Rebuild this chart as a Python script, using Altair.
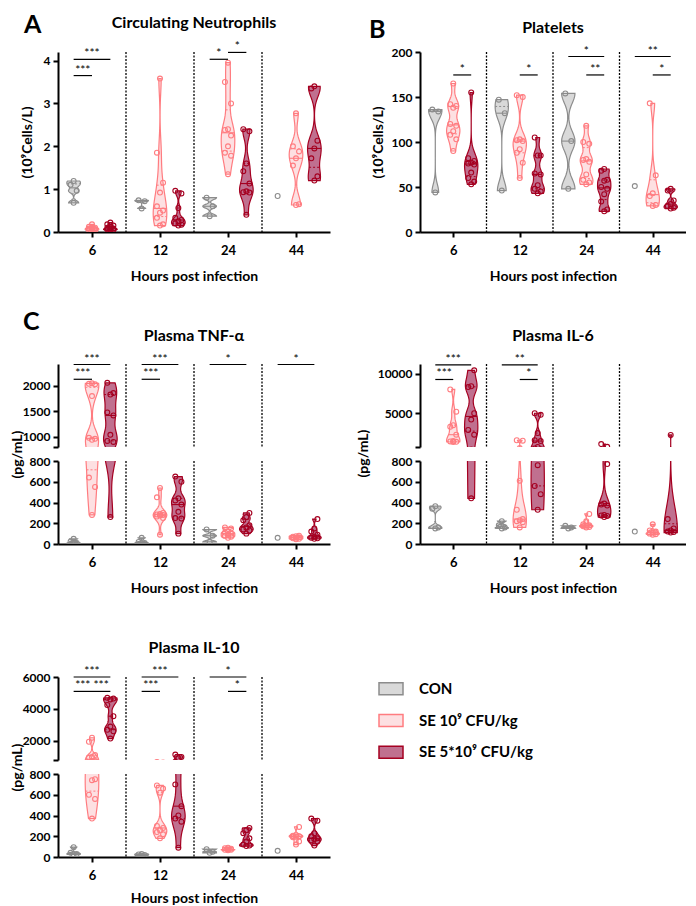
import altair as alt
import pandas as pd

HOURS = [6, 12, 24, 44]
GROUPS = ["CON", "SE 10⁹ CFU/kg", "SE 5*10⁹ CFU/kg"]
FILLS = ["#d9d9d9", "#fde0e2", "#c0708f"]
STROKES = ["#8c8c8c", "#ff7c80", "#a50021"]

# ---- data, one list per hour: 6, 12, 24, 44 h ----
NEU_CON = [[1.19, 1.10, 0.96, 0.68], [0.74, 0.72, 0.55], [0.80, 0.60, 0.37], [0.84]]
NEU_SE1 = [[0.18, 0.12, 0.10, 0.09, 0.08, 0.07, 0.06, 0.05, 0.04, 0.03],
           [3.58, 1.85, 1.15, 0.92, 0.60, 0.50, 0.45, 0.33, 0.18, 0.15],
           [3.95, 3.50, 3.00, 2.40, 2.38, 2.25, 2.00, 1.85, 1.78, 1.35],
           [2.77, 2.00, 1.88, 1.72, 1.55, 0.65, 0.63]]
NEU_SE5 = [[0.22, 0.18, 0.15, 0.12, 0.10, 0.08, 0.07, 0.06, 0.05, 0.04],
           [0.96, 0.90, 0.56, 0.33, 0.28, 0.25, 0.20, 0.17, 0.15],
           [2.40, 2.35, 1.60, 1.42, 1.13, 0.95, 0.93, 0.92, 0.40],
           [3.40, 3.35, 2.13, 1.95, 1.72, 1.30, 1.20]]

PLT_CON = [[136, 134, 44], [147, 132, 46], [154, 101, 48], [51]]
PLT_SE1 = [[165, 142, 140, 138, 120, 118, 112, 108, 103, 90],
           [152, 150, 103, 102, 101, 92, 88, 77, 60],
           [118, 100, 98, 81, 80, 78, 64, 58, 55, 53],
           [143, 63, 43, 40, 30, 29]]
PLT_SE5 = [[155, 82, 79, 77, 76, 75, 66, 60, 56, 53],
           [105, 85, 85, 65, 64, 52, 48, 45, 43],
           [70, 68, 58, 57, 50, 48, 42, 34, 25, 23],
           [48, 46, 35, 31, 29, 27, 26]]

TNF_CON = [[50, 25, 10, 5], [60, 20, 10, 5], [140, 80, 20], [60]]
TNF_SE1 = [[2050, 2040, 2030, 1800, 980, 960, 940, 640, 550, 280],
           [540, 450, 300, 290, 285, 280, 275, 265, 250, 90],
           [160, 150, 120, 110, 100, 90, 80, 70, 60],
           [80, 75, 70, 65, 60, 55, 50, 45]]
TNF_SE5 = [[2060, 1860, 1830, 1480, 1420, 1040, 920, 900, 260],
           [650, 600, 440, 420, 380, 310, 250, 245, 100],
           [300, 260, 230, 180, 160, 140, 130, 100],
           [240, 150, 120, 90, 70, 60, 55, 50]]

IL6_CON = [[365, 340, 160, 150], [220, 180, 160, 150], [175, 160, 150], [120]]
IL6_SE1 = [[8000, 5200, 3500, 3300, 2300, 1500, 1450, 1400, 1380],
           [1600, 1550, 610, 330, 240, 230, 220, 210, 160],
           [290, 220, 190, 180, 175, 170, 165, 160],
           [190, 130, 120, 110, 100, 95, 90]]
IL6_SE5 = [[10400, 8400, 8300, 5000, 4200, 2900, 2300, 440],
           [5000, 4800, 2500, 1600, 1500, 760, 560, 480, 330],
           [1120, 770, 390, 380, 370, 280, 275, 270, 260],
           [2270, 240, 150, 130, 120, 115, 110]]

IL10_CON = [[95, 40, 30, 25], [30, 25, 20, 15], [75, 50, 40], [60]]
IL10_SE1 = [[2200, 1950, 1120, 1000, 960, 750, 740, 600, 560, 370],
            [690, 660, 620, 300, 280, 260, 240, 220, 180],
            [90, 85, 80, 75, 70, 70, 65],
            [290, 210, 205, 200, 195, 190, 150, 120]]
IL10_SE5 = [[4700, 4650, 4600, 4250, 3550, 2900, 2700, 2600, 2150],
            [1150, 1000, 920, 700, 490, 400, 370, 340, 90],
            [280, 260, 230, 180, 150, 120, 110, 105],
            [370, 350, 230, 200, 180, 170, 160, 150, 110]]

# significance bars: [hour index, group a, group b, y level, label]
SIG_NEU = [[0, 0, 2, 4.03, "***"], [0, 0, 1, 3.65, "***"], [2, 0, 1, 4.03, "*"], [2, 1, 2, 4.19, "*"]]
SIG_PLT = [[0, 1, 2, 174.5, "*"], [1, 1, 2, 174.5, "*"], [2, 0, 2, 195, "*"], [2, 1, 2, 174.5, "**"],
           [3, 0, 2, 195, "**"], [3, 1, 2, 174.5, "*"]]
SIG_TNF = [[0, 0, 2, 2420, "***"], [0, 0, 1, 2130, "***"], [1, 0, 2, 2420, "***"], [1, 0, 1, 2130, "***"],
           [2, 0, 2, 2420, "*"], [3, 0, 2, 2420, "*"]]
SIG_IL6 = [[0, 0, 2, 11100, "***"], [0, 0, 1, 9250, "***"], [1, 0, 2, 11100, "**"], [1, 1, 2, 9250, "*"]]
SIG_IL10 = [[0, 0, 2, 6000, "***"], [0, 0, 1, 5100, "***"], [0, 1, 2, 5100, "***"],
            [1, 0, 2, 6000, "***"], [1, 0, 1, 5100, "***"], [2, 0, 2, 6000, "*"], [2, 1, 2, 5100, "*"]]

SEPS = [0.5, 1.5, 2.5]

rows = []
for panel, arrs in [("NEU", [NEU_CON, NEU_SE1, NEU_SE5]), ("PLT", [PLT_CON, PLT_SE1, PLT_SE5]),
                    ("TNF", [TNF_CON, TNF_SE1, TNF_SE5]), ("IL6", [IL6_CON, IL6_SE1, IL6_SE5]),
                    ("IL10", [IL10_CON, IL10_SE1, IL10_SE5])]:
    for g, arr in enumerate(arrs):
        for h, vals in enumerate(arr):
            for v in vals:
                rows.append(dict(panel=panel, h=h, g=g, grp=GROUPS[g], value=v))
df = pd.DataFrame(rows)

srows = []
for panel, lst in [("NEU", SIG_NEU), ("PLT", SIG_PLT), ("TNF", SIG_TNF), ("IL6", SIG_IL6), ("IL10", SIG_IL10)]:
    for h, ga, gb, y, lab in lst:
        srows.append(dict(panel=panel, h=h, ga=ga, gb=gb, y=y, lab=lab))
sig_df = pd.DataFrame(srows)
sep_df = pd.DataFrame({"s": SEPS})

GAP = 0.27
HALF = 0.1
XC = f"datum.h + (datum.g - 1) * {GAP}"
LABEL_EXPR = "[" + ",".join(f"'{h}'" for h in HOURS) + "][datum.value]"

FILL = alt.Fill("grp:N", scale=alt.Scale(domain=GROUPS, range=FILLS), legend=None)
STROKE = alt.Stroke("grp:N", scale=alt.Scale(domain=GROUPS, range=STROKES), legend=None)
FONT = "Lato"
PW = 272   # plot width, left column
PW2 = 266  # plot width, right column


def panel_chart(panel, ydom, yvals, width, height, xaxis_on, title=None, ytitle=None,
                ytitle_x=None, ytitle_y=None, hide_first=False, sig=True, xt_pad=12):
    xsc = alt.Scale(domain=[-0.5, 3.5], nice=False, zero=False)
    ysc = alt.Scale(domain=ydom, nice=False, zero=False)
    if xaxis_on:
        xax = alt.Axis(values=[0, 1, 2, 3], labelExpr=LABEL_EXPR, title="Hours post infection",
                       titlePadding=xt_pad, labelPadding=7, tickSize=5, labelFontSize=13)
    else:
        xax = None
    ykw = dict(values=yvals, tickSize=5, labelPadding=3, format="d", labelFontSize=12)
    if hide_first:
        ykw["labelExpr"] = f"datum.value == {yvals[0]} ? '' : datum.label"
    if ytitle:
        ykw["title"] = ytitle
        ykw["titleBaseline"] = "middle"
        ykw["titleX"] = ytitle_x
        ykw["titleY"] = ytitle_y
    else:
        ykw["title"] = None
    yax = alt.Axis(**ykw)

    def X(f):
        return alt.X(f, scale=xsc, axis=xax)

    def Y(f):
        return alt.Y(f, scale=ysc, axis=yax)

    src = alt.Chart(df).transform_filter(alt.datum.panel == panel)

    seps = alt.Chart(sep_df).mark_rule(color="black", strokeDash=[2, 1.5], strokeWidth=1.3).encode(x=X("s:Q"))

    vio = src.transform_joinaggregate(
        n="count()", med="median(value)", q1="q1(value)", q3="q3(value)",
        mn="min(value)", mxv="max(value)", groupby=["h", "g"]
    ).transform_filter("datum.n >= 2").transform_calculate(
        u="(datum.value - datum.mn) / (datum.mxv - datum.mn)"
    ).transform_density(
        "u", groupby=["h", "g", "grp", "med", "q1", "q3", "mn", "mxv"], as_=["uu", "dens"],
        extent=[0, 1], steps=80, bandwidth=0.1
    ).transform_joinaggregate(
        mx="max(dens)", groupby=["h", "g"]
    ).transform_calculate(
        v="datum.mn + datum.uu * (datum.mxv - datum.mn)",
        xl=f"{XC} - datum.dens / datum.mx * {HALF}",
        xr=f"{XC} + datum.dens / datum.mx * {HALF}",
    )
    area = vio.mark_area(orient="horizontal", strokeWidth=1.2, clip=True, opacity=1).encode(
        y=Y("v:Q"), x=X("xl:Q"), x2="xr:Q", fill=FILL, stroke=STROKE, detail="h:N"
    )
    medl = vio.transform_calculate(d="abs(datum.v - datum.med)").transform_window(
        rk="row_number()", groupby=["h", "g"], sort=[alt.SortField("d", order="ascending")]
    ).transform_filter("datum.rk == 1").mark_rule(strokeWidth=1.1, clip=True).encode(
        x=X("xl:Q"), x2="xr:Q", y=Y("med:Q"), stroke=STROKE
    )
    qlin = vio.transform_fold(["q1", "q3"], as_=["qk", "qv"]).transform_calculate(
        d="abs(datum.v - datum.qv)"
    ).transform_window(
        rk="row_number()", groupby=["h", "g", "qk"], sort=[alt.SortField("d", order="ascending")]
    ).transform_filter("datum.rk == 1").mark_rule(strokeWidth=1, strokeDash=[2, 2], clip=True).encode(
        x=X("xl:Q"), x2="xr:Q", y=Y("qv:Q"), stroke=STROKE
    )
    pts = src.transform_window(
        rk="row_number()", groupby=["h", "g"], sort=[alt.SortField("value", order="ascending")]
    ).transform_calculate(
        xp=f"{XC} + ((datum.rk % 3) - 1) * 0.045"
    ).mark_point(shape="circle", size=24, filled=False, strokeWidth=1.1, opacity=1, clip=True).encode(
        x=X("xp:Q"), y=Y("value:Q"), stroke=STROKE
    )
    layers = [seps, area, qlin, medl, pts]
    if sig:
        sg = alt.Chart(sig_df).transform_filter(alt.datum.panel == panel).transform_calculate(
            xa=f"datum.h + (datum.ga - 1) * {GAP}",
            xb=f"datum.h + (datum.gb - 1) * {GAP}",
        ).transform_calculate(xm="(datum.xa + datum.xb) / 2")
        rule = sg.mark_rule(color="black", strokeWidth=1.2).encode(x=X("xa:Q"), x2="xb:Q", y=Y("y:Q"))
        txt = sg.mark_text(fontSize=12, baseline="alphabetic", dy=-2, font=FONT, color="black").encode(
            x=X("xm:Q"), y=Y("y:Q"), text="lab:N"
        )
        layers += [rule, txt]
    ch = alt.layer(*layers).properties(width=width, height=height)
    if title:
        ch = ch.properties(title=alt.TitleParams(title, frame="group", offset=9, anchor="middle"))
    return ch


def spacer(width, height, letter=None):
    sp = alt.Chart(sep_df).mark_rule(opacity=0).encode(x=alt.value(0)).properties(width=width, height=height)
    if letter:
        sp = sp.properties(title=alt.TitleParams(letter, orient="bottom", anchor="start", frame="group",
                                                 offset=-40, dx=-35, fontSize=25, font=FONT,
                                                 fontWeight="bold"))
    return sp


A = panel_chart("NEU", [0, 4.2], [0, 1, 2, 3, 4], PW, 180, True, title="Circulating Neutrophils",
                ytitle="(10⁹Cells/L)", ytitle_x=-31, ytitle_y=90)
B = panel_chart("PLT", [0, 200], [0, 50, 100, 150, 200], PW2, 180, True, title="Platelets",
                ytitle="(10⁹Cells/L)", ytitle_x=-42, ytitle_y=90)

TNFu = panel_chart("TNF", [800, 2430], [800, 1000, 1500, 2000], PW, 83, False, title="Plasma TNF-α",
                   hide_first=True)
TNFl = panel_chart("TNF", [0, 800], [0, 200, 400, 600, 800], PW, 83, True, ytitle="(pg/mL)",
                   ytitle_x=-41, ytitle_y=-7, sig=False)
IL6u = panel_chart("IL6", [750, 11200], [750, 5000, 10000], PW2, 83, False, title="Plasma IL-6",
                   hide_first=True)
IL6l = panel_chart("IL6", [0, 800], [0, 200, 400, 600, 800], PW2, 83, True, ytitle="(pg/mL)",
                   ytitle_x=-57, ytitle_y=-8, sig=False)
IL10u = panel_chart("IL10", [810, 6000], [810, 2000, 4000, 6000], PW, 83, False, title="Plasma IL-10",
                    hide_first=True)
IL10l = panel_chart("IL10", [0, 800], [0, 200, 400, 600, 800], PW, 83, True, ytitle="(pg/mL)",
                    ytitle_x=-41, ytitle_y=-7, sig=False, xt_pad=9)

leg_df = pd.DataFrame({"grp": GROUPS})
leg_y = alt.Y("grp:N", sort=GROUPS, scale=alt.Scale(type="point", padding=0.5), axis=None)
sym = alt.Chart(leg_df).mark_point(shape="M-1,-0.5L1,-0.5L1,0.5L-1,0.5Z", size=576, filled=True,
                                   strokeWidth=1.5, opacity=1).encode(
    y=leg_y, x=alt.value(-29), fill=FILL, stroke=STROKE)
ltxt = alt.Chart(leg_df).mark_text(align="left", fontSize=15, fontWeight="bold", font=FONT,
                                   color="black").encode(y=leg_y, x=alt.value(-1), text="grp:N")
LEG = alt.layer(sym, ltxt).properties(width=PW2, height=95)

LETTER = dict(anchor="start", fontSize=25, font=FONT, fontWeight="bold", frame="bounds", offset=-23)

left = alt.vconcat(A, spacer(PW, 104, "C"), TNFu, TNFl, spacer(PW, 105), IL10u, IL10l,
                   spacing=14, bounds="flush", title=alt.TitleParams("A", dx=14, **LETTER))
right = alt.vconcat(B, spacer(PW2, 104), IL6u, IL6l, spacer(PW2, 101), LEG,
                    spacing=14, bounds="flush", title=alt.TitleParams("B", dx=13, **LETTER))

chart = alt.hconcat(left, right, spacing=26).properties(
    padding={"left": 2, "top": 5, "right": 0, "bottom": 0}
).configure(font=FONT).configure_view(stroke=None).configure_axis(
    grid=False, domainColor="black", domainWidth=2, tickColor="black", tickWidth=2,
    labelFont=FONT, labelFontWeight="bold", labelColor="black",
    titleFont=FONT, titleFontWeight="bold", titleFontSize=14, titleColor="black"
).configure_title(font=FONT, fontSize=16, fontWeight="bold", color="black")

chart.save("out.html", embed_options={"renderer": "svg", "actions": False})
